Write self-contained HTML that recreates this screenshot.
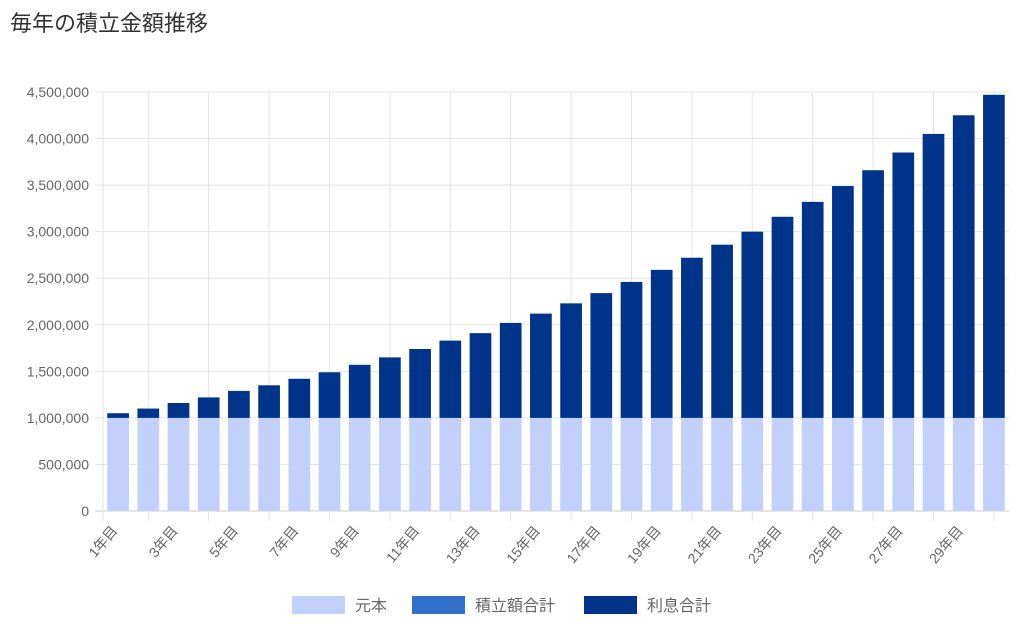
<!DOCTYPE html>
<html><head><meta charset="utf-8">
<style>
body{margin:0;background:#fff;width:1024px;height:631px;overflow:hidden;font-family:"Liberation Sans","Noto Sans CJK JP",sans-serif;}
#title{position:absolute;left:10px;top:6px;font-size:22px;color:#333;}
svg{position:absolute;left:0;top:0;}
</style></head><body>
<div id="title">毎年の積立金額推移</div>
<svg id="chart" width="1024" height="631"></svg>
<script>
const years = Array.from({length:30},(_,i)=>(i+1)+'年目');
const principal = [1000000,1000000,1000000,1000000,1000000,1000000,1000000,1000000,1000000,1000000,1000000,1000000,1000000,1000000,1000000,1000000,1000000,1000000,1000000,1000000,1000000,1000000,1000000,1000000,1000000,1000000,1000000,1000000,1000000,1000000];
const contributions = [0,0,0,0,0,0,0,0,0,0,0,0,0,0,0,0,0,0,0,0,0,0,0,0,0,0,0,0,0,0];
const totals = [1050000,1100000,1160000,1220000,1290000,1350000,1420000,1490000,1570000,1650000,1740000,1830000,1910000,2020000,2120000,2230000,2340000,2460000,2590000,2720000,2860000,3000000,3160000,3320000,3490000,3660000,3850000,4050000,4250000,4470000];
const yTicks = [0,500000,1000000,1500000,2000000,2500000,3000000,3500000,4000000,4500000];
const interest = totals.map((t,i)=>t-principal[i]-contributions[i]);

const NS='http://www.w3.org/2000/svg';
const svg=document.getElementById('chart');
const L=103,R=1009,T=92,B=511,YMAX=4500000;
const band=(R-L)/years.length;
const y=v=>B-(v/YMAX)*(B-T);
const xc=i=>L+band*(i+0.5);
function el(tag,attrs){const e=document.createElementNS(NS,tag);for(const k in attrs)e.setAttribute(k,attrs[k]);svg.appendChild(e);return e;}

yTicks.forEach(t=>{
  const g=el('line',{x1:L-8,x2:R,y1:y(t),y2:y(t),stroke:t===0?'#ccc':'#e5e5e5','stroke-width':1});
  
  
  const tx=el('text',{x:L-14,y:y(t)+5,'text-anchor':'end','font-size':14,fill:'#666'});
  tx.textContent=t.toLocaleString('en-US');
  
  
});
const lg=el('line',{x1:L,x2:L,y1:T,y2:B+10,stroke:'#e5e5e5'});


years.forEach((yr,i)=>{
  if(i%2===1){
    const g=el('line',{x1:xc(i),x2:xc(i),y1:T,y2:B+10,stroke:'#e5e5e5'});
    
    
  }else{
    const cx=xc(i),cy=B+20;
    const tx=el('text',{x:cx,y:cy,'text-anchor':'end','font-size':14,fill:'#666',transform:`rotate(-50 ${cx} ${cy})`});
    tx.textContent=yr;
    
    
  }
});
const bw=21.7;
years.forEach((yr,i)=>{
  const x0=xc(i)-bw/2;
  const b1=el('rect',{x:x0,y:y(principal[i]),width:bw,height:B-y(principal[i]),fill:'#c2d1fb'});
  
  
  const base2=principal[i]+contributions[i];
  const b2=el('rect',{x:x0,y:y(base2),width:bw,height:y(principal[i])-y(base2),fill:'#3370cc'});
  
  
  const top=base2+interest[i];
  const b3=el('rect',{x:x0,y:y(top),width:bw,height:y(base2)-y(top),fill:'#00338a'});
  
  
});
const legend=[['元本','#c2d1fb',292],['積立額合計','#3370cc',412],['利息合計','#00338a',584]];
legend.forEach(([n,c,x])=>{
  const r=el('rect',{x:x,y:596,width:53,height:18,fill:c});
  
  
  const t=el('text',{x:x+63,y:611,'font-size':16,fill:'#666'});
  t.textContent=n;
  
  
});
</script>
</body></html>
